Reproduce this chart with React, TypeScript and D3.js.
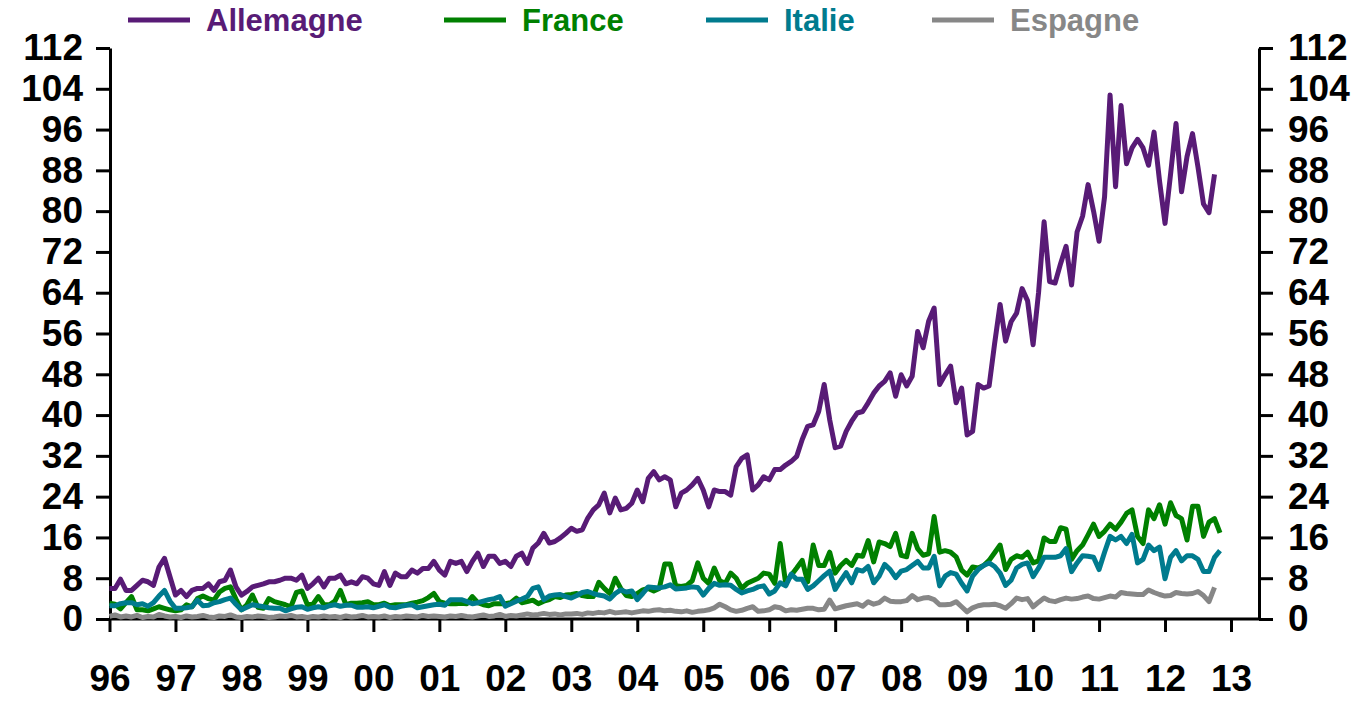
import React, { useEffect, useRef } from "react";
import * as d3 from "d3";

// monthly values, Jan 1996 onwards
const yearLabels = ["96", "97", "98", "99", "00", "01", "02", "03", "04", "05", "06", "07", "08", "09", "10", "11", "12", "13"];
const yTicks = [0, 8, 16, 24, 32, 40, 48, 56, 64, 72, 80, 88, 96, 104, 112];
const seriesNames = ["Allemagne", "France", "Italie", "Espagne"];
const seriesColors = ["#581b76", "#008000", "#007b8e", "#878787"];

const allemagne = [
  6.0, 6.0, 7.8, 5.6, 5.6, 6.6, 7.6, 7.3, 6.6, 10.2, 11.9, 8.3,
  4.7, 5.6, 4.4, 5.6, 6.0, 6.0, 6.9, 5.6, 7.3, 7.6, 9.6, 6.3,
  4.7, 5.4, 6.3, 6.6, 6.9, 7.3, 7.3, 7.6, 8.0, 8.0, 7.6, 8.6,
  6.0, 6.9, 8.0, 6.3, 8.0, 8.0, 8.6, 6.9, 7.3, 6.9, 8.3, 8.0,
  6.9, 6.6, 9.3, 6.6, 9.0, 8.3, 8.3, 9.6, 9.0, 9.9, 9.9, 11.3,
  9.6, 8.6, 11.3, 10.9, 11.3, 9.3, 11.3, 12.9, 10.3, 12.3, 12.3, 10.9,
  11.3, 10.3, 12.3, 12.9, 10.9, 13.9, 14.9, 16.8, 14.9, 15.2, 15.9, 16.8,
  17.8, 17.2, 17.5, 19.8, 21.4, 22.4, 24.7, 20.8, 23.7, 21.4, 21.7, 22.7,
  25.3, 23.0, 27.6, 28.9, 27.3, 27.9, 27.3, 22.0, 24.7, 25.3, 26.3, 27.6,
  25.3, 22.0, 25.3, 25.0, 25.0, 24.3, 29.9, 31.5, 32.2, 25.3, 26.3, 27.9,
  27.3, 29.3, 29.3, 30.2, 30.9, 31.9, 35.2, 37.8, 38.1, 40.7, 46.0, 39.1,
  33.6, 33.9, 36.8, 38.8, 40.4, 40.7, 42.4, 44.3, 45.7, 46.6, 48.3, 43.7,
  47.9, 45.7, 47.6, 56.4, 53.2, 58.4, 61.0, 46.0, 47.9, 49.6, 42.4, 45.3,
  36.1, 36.8, 46.0, 45.3, 45.7, 54.0, 61.7, 54.5, 58.3, 60.0, 64.8, 62.4,
  53.8, 64.1, 77.9, 66.2, 65.9, 69.7, 73.1, 65.5, 75.9, 79.0, 85.2, 80.0,
  74.1, 82.8, 102.8, 84.8, 100.7, 89.3, 92.4, 94.1, 92.4, 89.0, 95.5, 85.9,
  77.6, 87.2, 97.2, 83.8, 90.7, 95.2, 88.6, 81.4, 79.7, 87.2,
];

const france = [
  3.1, 2.9, 2.0, 3.2, 4.4, 1.8, 1.8, 1.6, 2.0, 2.4, 2.1, 1.8,
  1.6, 1.8, 2.8, 2.4, 4.0, 4.5, 4.0, 3.7, 5.3, 6.0, 6.3, 3.9,
  1.8, 2.8, 4.7, 2.3, 2.1, 4.0, 3.4, 3.1, 2.8, 2.4, 5.2, 5.5,
  2.8, 2.9, 4.4, 2.8, 2.8, 3.5, 5.6, 2.8, 3.1, 3.1, 3.2, 3.4,
  2.8, 2.8, 3.1, 2.6, 2.8, 2.8, 2.8, 3.1, 3.3, 3.6, 4.2, 5.0,
  3.4, 3.1, 3.0, 3.0, 3.1, 3.0, 4.4, 3.2, 2.8, 2.6, 3.0, 3.0,
  3.0, 3.2, 4.1, 3.2, 3.4, 3.7, 3.0, 3.5, 3.8, 4.4, 4.2, 4.7,
  4.8, 5.0, 4.6, 4.4, 4.4, 7.2, 6.0, 5.0, 8.0, 6.0, 4.6, 4.4,
  5.0, 5.7, 6.0, 5.5, 6.0, 10.8, 10.8, 6.5, 6.4, 6.6, 7.5, 11.0,
  8.0, 7.0, 10.0, 7.5, 7.0, 9.0, 8.0, 6.0, 7.0, 7.5, 8.0, 9.0,
  8.8, 7.0, 14.8, 7.0, 8.6, 10.0, 11.5, 7.3, 14.5, 10.5, 10.5, 13.1,
  9.0, 10.5, 11.5, 10.5, 12.5, 12.3, 15.4, 11.2, 15.1, 14.8, 14.2, 16.8,
  12.5, 12.2, 16.8, 13.8, 12.5, 12.8, 20.1, 13.1, 13.4, 13.1, 12.2, 9.6,
  8.6, 10.2, 10.0, 10.5, 11.5, 13.0, 14.5, 9.7, 11.7, 12.4, 12.1, 13.1,
  11.0, 11.4, 15.9, 15.2, 15.2, 17.9, 17.6, 11.7, 13.4, 14.5, 16.5, 18.6,
  16.2, 17.2, 18.6, 17.6, 19.0, 20.7, 21.4, 16.2, 14.8, 21.4, 19.7, 22.4,
  18.6, 22.8, 20.3, 19.7, 15.5, 22.1, 22.1, 16.2, 19.0, 19.7, 16.9,
];

const italie = [
  2.6, 2.6, 3.0, 3.2, 3.2, 2.8, 3.0, 2.5, 3.2, 4.5, 5.6, 3.5,
  2.1, 2.1, 2.2, 2.4, 3.7, 2.6, 2.7, 3.2, 3.4, 3.8, 4.1, 2.9,
  1.8, 2.3, 2.8, 2.6, 2.4, 2.2, 2.1, 2.1, 1.6, 2.0, 2.3, 2.4,
  1.9, 2.2, 2.4, 2.2, 2.6, 2.8, 2.5, 2.7, 2.7, 2.3, 2.3, 2.4,
  2.2, 2.5, 2.8, 2.3, 2.2, 2.5, 2.7, 2.8, 2.2, 2.4, 2.6, 2.8,
  2.9, 2.7, 3.8, 3.8, 3.8, 3.4, 3.0, 3.2, 3.5, 3.8, 4.0, 4.4,
  2.5, 3.0, 3.5, 3.9, 4.4, 6.0, 6.3, 3.8, 4.5, 4.7, 4.8, 4.4,
  4.1, 4.6, 5.2, 5.4, 5.0, 4.7, 4.5, 3.9, 5.0, 5.7, 5.3, 5.5,
  3.8, 5.0, 6.3, 6.2, 6.1, 6.3, 6.7, 5.9, 6.0, 6.1, 6.3, 6.2,
  4.7, 6.0, 7.0, 6.6, 6.7, 6.6, 5.8, 5.1, 5.5, 5.8, 6.3, 6.5,
  4.9, 5.5, 7.1, 6.5, 8.8, 7.8, 7.8, 5.8, 6.5, 7.5, 8.5, 9.4,
  5.8, 7.5, 9.1, 7.1, 9.7, 9.4, 10.3, 7.1, 8.4, 10.7, 9.7, 8.1,
  9.4, 9.7, 10.5, 11.3, 10.0, 10.0, 12.3, 6.5, 8.4, 9.1, 8.8, 7.0,
  5.5, 8.4, 9.7, 10.5, 11.0, 10.3, 9.0, 6.6, 7.6, 10.0, 10.7, 11.0,
  8.3, 10.0, 12.1, 12.1, 12.1, 12.4, 13.8, 9.3, 11.0, 12.4, 12.3, 12.1,
  9.7, 13.1, 16.2, 15.5, 16.2, 14.8, 16.6, 11.0, 11.7, 14.5, 13.4, 14.1,
  7.9, 12.1, 13.4, 11.4, 12.4, 12.4, 11.7, 9.3, 9.3, 12.1, 13.4,
];

const espagne = [
  0.5, 0.8, 0.4, 0.6, 0.4, 0.7, 0.3, 0.5, 0.4, 0.9, 0.6, 0.4,
  0.5, 0.3, 0.6, 0.4, 0.5, 0.7, 0.4, 0.3, 0.6, 0.5, 0.8, 0.4,
  0.3, 0.5, 0.4, 0.6, 0.5, 0.3, 0.4, 0.6, 0.5, 0.7, 0.4, 0.5,
  0.3, 0.5, 0.4, 0.6, 0.4, 0.5, 0.3, 0.6, 0.4, 0.5, 0.7, 0.4,
  0.5, 0.4, 0.6, 0.3, 0.5, 0.4, 0.6, 0.5, 0.4, 0.7, 0.5, 0.6,
  0.5, 0.4, 0.6, 0.5, 0.7, 0.5, 0.4, 0.6, 0.8, 0.5, 0.6, 0.9,
  0.5, 0.7, 0.6, 0.8, 1.0, 0.8, 0.9, 1.1, 0.9, 1.0, 0.8, 1.0,
  1.0, 1.1, 0.9, 1.2, 1.1, 1.3, 1.2, 1.5, 1.2, 1.3, 1.4, 1.2,
  1.4, 1.6, 1.5, 1.7, 1.8, 1.6, 1.7, 1.5, 1.4, 1.6, 1.3, 1.5,
  1.6, 1.8, 2.2, 2.9, 2.4, 1.8, 1.5, 1.7, 2.1, 2.4, 1.5, 1.6,
  1.8, 2.4, 2.2, 1.6, 1.8, 1.7, 1.9, 2.1, 2.1, 1.8, 1.9, 3.7,
  2.0, 2.3, 2.6, 2.8, 3.0, 2.5, 3.4, 2.9, 3.2, 4.1, 3.5, 3.4,
  3.4, 3.6, 4.6, 3.8, 4.1, 4.2, 3.8, 2.8, 2.8, 2.9, 3.4, 2.4,
  1.4, 2.2, 2.6, 2.8, 2.8, 2.9, 2.6, 2.1, 3.0, 4.1, 3.8, 4.0,
  2.4, 3.3, 4.1, 3.6, 3.4, 3.8, 4.1, 3.9, 4.0, 4.3, 4.5, 4.0,
  3.9, 4.2, 4.5, 4.3, 5.2, 5.0, 4.9, 4.8, 4.8, 5.7, 5.2, 4.8,
  4.5, 4.6, 5.2, 5.0, 4.9, 5.0, 5.4, 4.6, 3.4, 6.2,
];

const allSeries = [allemagne, france, italie, espagne];

const W = 1359;
const H = 701;
const FONT = "'Liberation Sans', Arial, sans-serif";

const App = () => {
  const svgRef = useRef<SVGSVGElement>(null);

  useEffect(() => {
    const svg = d3.select(svgRef.current);
    svg.selectAll("*").remove();

    const left = 110;
    const right = 1259;
    const top = 48;
    const bottom = 619;

    // months since Jan 1996
    const x = d3.scaleLinear().domain([0, 12 * (yearLabels.length - 1)]).range([109.5, 1231]);
    const y = d3.scaleLinear().domain([0, 112]).range([bottom, top]);

    const styleAxis = (g: any) => {
      g.selectAll("line").attr("stroke", "#000").attr("stroke-width", 3);
      g.selectAll("path").attr("stroke", "#000").attr("stroke-width", 3);
      g.selectAll("text")
        .attr("fill", "#000")
        .style("font-family", FONT)
        .style("font-weight", "bold")
        .style("font-size", "37px");
    };

    // left and right value axes
    const yLeft = d3.axisLeft(y).tickValues(yTicks).tickSize(14).tickSizeOuter(0).tickPadding(13);
    svg.append("g").attr("transform", `translate(${left},0)`).call(yLeft).call(styleAxis);

    const yRight = d3.axisRight(y).tickValues(yTicks).tickSize(14).tickSizeOuter(0).tickPadding(15);
    svg.append("g").attr("transform", `translate(${right},0)`).call(yRight).call(styleAxis);

    // year axis
    const xAxis = d3
      .axisBottom(x)
      .tickValues(yearLabels.map((_, i) => i * 12))
      .tickFormat((_, i) => yearLabels[i])
      .tickSize(13)
      .tickSizeOuter(0)
      .tickPadding(33);
    const gx = svg.append("g").attr("transform", `translate(0,${bottom})`).call(xAxis).call(styleAxis);
    gx.select(".domain").remove();

    svg
      .append("line")
      .attr("x1", left)
      .attr("x2", right)
      .attr("y1", bottom)
      .attr("y2", bottom)
      .attr("stroke", "#000")
      .attr("stroke-width", 3);

    // series lines
    const lineGen = d3
      .line<number>()
      .x((_, i) => x(i))
      .y((d) => y(d));

    svg
      .selectAll(".series")
      .data(allSeries)
      .join("path")
      .attr("class", "series")
      .attr("d", (d) => lineGen(d))
      .attr("fill", "none")
      .attr("stroke", (_, i) => seriesColors[i])
      .attr("stroke-width", 5)
      .attr("stroke-linejoin", "round");

    // legend
    const legendX = [128, 444, 706, 932];
    const legend = svg
      .selectAll(".legend")
      .data(seriesNames)
      .join("g")
      .attr("class", "legend")
      .attr("transform", (_, i) => `translate(${legendX[i]},20)`);

    legend
      .append("line")
      .attr("x1", 0)
      .attr("x2", 62)
      .attr("stroke", (_, i) => seriesColors[i])
      .attr("stroke-width", 5);

    legend
      .append("text")
      .attr("x", 78)
      .attr("y", 11)
      .attr("fill", (_, i) => seriesColors[i])
      .style("font-family", FONT)
      .style("font-weight", "bold")
      .style("font-size", "31px")
      .text((d) => d);
  }, []);

  return (
    <div style={{ position: "fixed", left: 0, top: 0, width: W, height: H, background: "#fff" }}>
      <svg ref={svgRef} width={W} height={H}></svg>
    </div>
  );
};

export default App;
